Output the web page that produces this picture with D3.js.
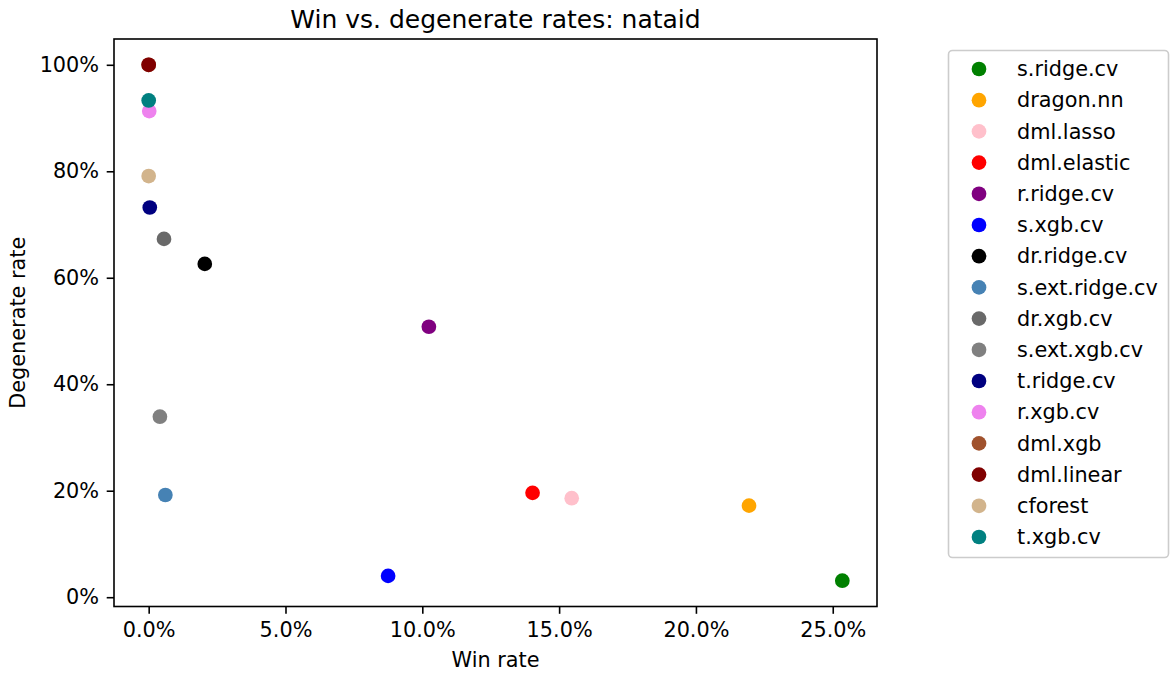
<!DOCTYPE html>
<html><head><meta charset="utf-8">
<script src="https://cdn.jsdelivr.net/npm/d3@7"></script>
<style>body{margin:0;background:#fff;} svg{display:block;font-family:"DejaVu Sans",sans-serif;}</style>
</head><body>
<svg id="c" width="1173" height="674"></svg>
<script>
const methods = ["s.ridge.cv","dragon.nn","dml.lasso","dml.elastic","r.ridge.cv","s.xgb.cv","dr.ridge.cv","s.ext.ridge.cv","dr.xgb.cv","s.ext.xgb.cv","t.ridge.cv","r.xgb.cv","dml.xgb","dml.linear","cforest","t.xgb.cv"];
const colors = ["green","orange","pink","red","purple","blue","black","steelblue","dimgray","gray","navy","violet","sienna","maroon","tan","teal"];
const winRate = [0.2535,0.2194,0.1546,0.1403,0.1024,0.0875,0.0205,0.0061,0.0056,0.0041,0.0004,0.0002,0.0,0.0,0.0,0.0];
const degenerateRate = [0.031,0.172,0.186,0.196,0.508,0.040,0.626,0.192,0.673,0.339,0.732,0.913,1.0,1.0,0.791,0.933];
const xTicks = [0,0.05,0.10,0.15,0.20,0.25];
const yTicks = [0,0.2,0.4,0.6,0.8,1.0];

const svg = d3.select("#c");
const L=114, R=877, T=39, B=606.5;
const xmin=d3.min(winRate), xmax=d3.max(winRate), ymin=d3.min(degenerateRate), ymax=d3.max(degenerateRate);
const xm=(xmax-xmin)*0.05, ym=(ymax-ymin)*0.05;
const x=d3.scaleLinear().domain([xmin-xm,xmax+xm]).range([L,R]);
const y=d3.scaleLinear().domain([ymin-ym,ymax+ym]).range([B,T]);
const fs=20.8;

const xa=svg.append("g").attr("transform",`translate(0,${B})`)
  .call(d3.axisBottom(x).tickValues(xTicks).tickFormat(d3.format(".1%")).tickSize(7.3).tickPadding(7.3));
const ya=svg.append("g").attr("transform",`translate(${L},0)`)
  .call(d3.axisLeft(y).tickValues(yTicks).tickFormat(d3.format(".0%")).tickSize(7.3).tickPadding(7.6));
[xa,ya].forEach(a=>{a.select(".domain").remove();a.selectAll("line").attr("stroke","#000").attr("stroke-width",1.6);
  a.selectAll("text").attr("font-size",fs).attr("fill","#000").attr("font-family","DejaVu Sans");});
xa.selectAll("text").attr("dy","0.76em");

svg.append("rect").attr("x",L).attr("y",T).attr("width",R-L).attr("height",B-T)
  .attr("fill","none").attr("stroke","#000").attr("stroke-width",1.6);

svg.append("g").selectAll("circle").data(methods).join("circle")
  .attr("cx",(d,i)=>x(winRate[i])).attr("cy",(d,i)=>y(degenerateRate[i]))
  .attr("r",7.35).attr("fill",(d,i)=>colors[i]);

svg.append("text").attr("x",(L+R)/2).attr("y",28).attr("text-anchor","middle")
  .attr("font-size",25).text("Win vs. degenerate rates: nataid");
svg.append("text").attr("x",(L+R)/2).attr("y",667).attr("text-anchor","middle")
  .attr("font-size",fs).text("Win rate");
svg.append("text").attr("transform",`translate(24.5,${(T+B)/2}) rotate(-90)`).attr("text-anchor","middle")
  .attr("font-size",fs).text("Degenerate rate");

const lg=svg.append("g");
lg.append("rect").attr("x",948.5).attr("y",50.5).attr("width",220).attr("height",507)
  .attr("rx",4).attr("fill","#fff").attr("stroke","#cccccc").attr("stroke-width",1.6);
const step=31.2;
methods.forEach((m,i)=>{
  const cy=69+i*step;
  lg.append("circle").attr("cx",979).attr("cy",cy).attr("r",7.35).attr("fill",colors[i]);
  lg.append("text").attr("x",1017).attr("y",cy).attr("dy","0.35em").attr("font-size",fs).text(m);
});
</script>
</body></html>
